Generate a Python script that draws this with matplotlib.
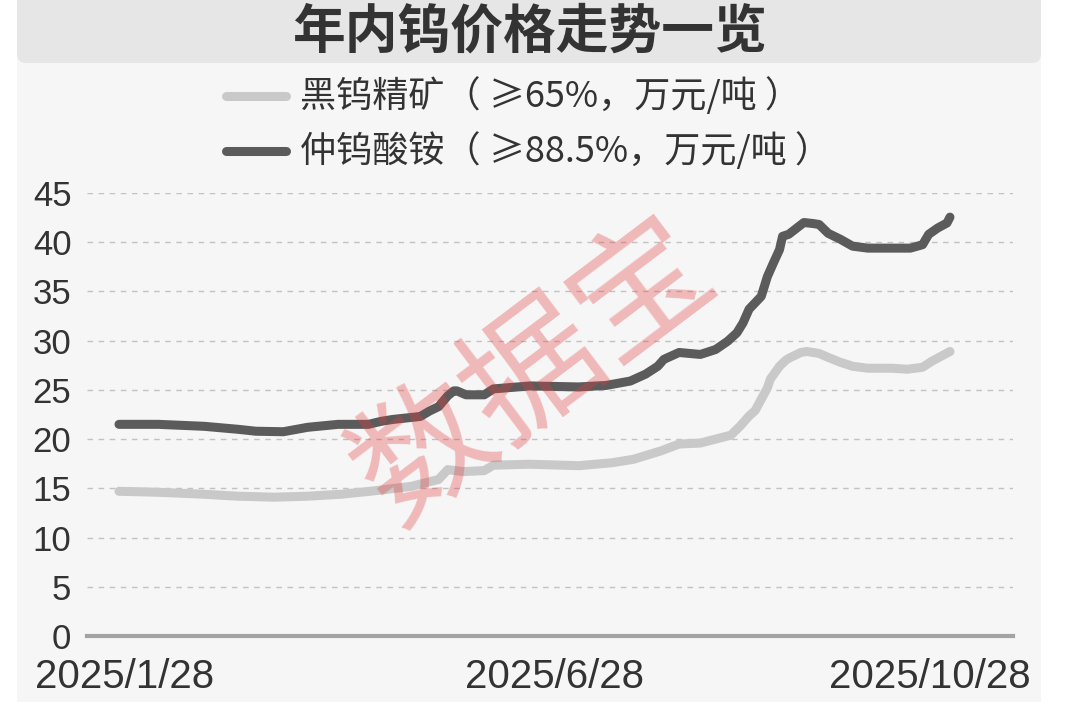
import matplotlib.pyplot as plt
import matplotlib.transforms as mtransforms
from matplotlib.patches import FancyBboxPatch, Rectangle
from matplotlib.lines import Line2D
import pandas as pd

plt.rcParams['font.family'] = ['Noto Sans CJK SC', 'DejaVu Sans']

title = '年内钨价格走势一览'
watermark = '数据宝'
series_labels = ['黑钨精矿（ ≥65%，万元/吨 ）', '仲钨酸铵（ ≥88.5%，万元/吨 ）']

# 黑钨精矿 (light line)
ore_dates = ['2025-01-28', '2025-02-10', '2025-02-25', '2025-03-08', '2025-03-20',
             '2025-03-31', '2025-04-11', '2025-04-22', '2025-05-04', '2025-05-13',
             '2025-05-16', '2025-05-21', '2025-05-28', '2025-05-31', '2025-06-12',
             '2025-06-28', '2025-07-09', '2025-07-16', '2025-07-25', '2025-07-31',
             '2025-08-07', '2025-08-17', '2025-08-20', '2025-08-23', '2025-08-25',
             '2025-08-29', '2025-08-30', '2025-09-02', '2025-09-04', '2025-09-05',
             '2025-09-09', '2025-09-11', '2025-09-15', '2025-09-18', '2025-09-22',
             '2025-09-26', '2025-10-01', '2025-10-09', '2025-10-14', '2025-10-19',
             '2025-10-22', '2025-10-28']
ore_values = [14.7, 14.6, 14.4, 14.2, 14.1,
              14.2, 14.4, 14.75, 15.2, 15.9,
              16.9, 16.7, 16.8, 17.35, 17.45,
              17.3, 17.6, 17.95, 18.8, 19.5,
              19.6, 20.4, 21.3, 22.35, 22.9,
              25.2, 26.1, 27.4, 28.0, 28.2,
              28.8, 28.9, 28.7, 28.3, 27.8,
              27.4, 27.2, 27.2, 27.1, 27.3,
              27.9, 28.9]

# 仲钨酸铵 (dark line)
apt_dates = ['2025-01-28', '2025-02-10', '2025-02-25', '2025-03-08', '2025-03-14',
             '2025-03-23', '2025-03-31', '2025-04-10', '2025-04-20', '2025-04-24',
             '2025-04-28', '2025-05-07', '2025-05-10', '2025-05-13', '2025-05-16',
             '2025-05-18', '2025-05-19', '2025-05-22', '2025-05-28', '2025-05-31',
             '2025-06-12', '2025-06-28', '2025-07-07', '2025-07-15', '2025-07-20',
             '2025-07-24', '2025-07-26', '2025-07-31', '2025-08-07', '2025-08-12',
             '2025-08-16', '2025-08-19', '2025-08-21', '2025-08-23', '2025-08-27',
             '2025-08-29', '2025-08-31', '2025-09-02', '2025-09-03', '2025-09-05',
             '2025-09-10', '2025-09-13', '2025-09-15', '2025-09-18', '2025-09-22',
             '2025-09-26', '2025-10-01', '2025-10-15', '2025-10-19', '2025-10-21',
             '2025-10-24', '2025-10-27', '2025-10-28']
apt_values = [21.5, 21.5, 21.3, 21.0, 20.8,
              20.75, 21.2, 21.5, 21.5, 21.8,
              22.0, 22.3, 22.85, 23.3, 24.4,
              24.9, 24.9, 24.5, 24.5, 25.1,
              25.4, 25.3, 25.45, 25.9, 26.6,
              27.4, 28.1, 28.8, 28.6, 29.1,
              29.95, 30.8, 31.8, 33.2, 34.5,
              36.5, 37.9, 39.25, 40.6, 40.8,
              42.0, 41.9, 41.8, 40.9, 40.3,
              39.6, 39.4, 39.4, 39.75, 40.8,
              41.45, 41.95, 42.55]

yticks = [0, 5, 10, 15, 20, 25, 30, 35, 40, 45]
xtick_dates = ['2025-01-28', '2025-06-28', '2025-10-28']
xtick_labels = ['2025/1/28', '2025/6/28', '2025/10/28']

W, H = 1078, 714
fig = plt.figure(figsize=(W / 100, H / 100), dpi=100)
fig.patch.set_facecolor('white')

# panel + title bar
fig.add_artist(Rectangle((17 / W, 1 - 702 / H), (1041 - 17) / W, 702 / H,
                         transform=fig.transFigure, facecolor='#f6f6f6',
                         edgecolor='none', zorder=0))
fig.add_artist(FancyBboxPatch((0.17, (H - 63) / 100), 10.24, 1.0,
                              boxstyle='round,pad=0,rounding_size=0.09',
                              transform=fig.dpi_scale_trans, facecolor='#e6e6e6',
                              edgecolor='none', zorder=0.5))
fig.text(529 / W, 1 - 32 / H, title, ha='center', va='center',
         fontsize=38, fontweight='bold', color='#333333')

# legend
leg_colors = ['#c9c9c9', '#5b5b5b']
for i, (lab, col) in enumerate(zip(series_labels, leg_colors)):
    yy = (H - (96 + 55 * i)) / 100
    fig.add_artist(Line2D([2.26, 2.86], [yy, yy], transform=fig.dpi_scale_trans,
                          color=col, linewidth=6.5, solid_capstyle='round'))
    fig.text(3.0, yy, lab, transform=fig.dpi_scale_trans, ha='left', va='center',
             fontsize=26, color='#333333')

ax = fig.add_axes([86.7 / W, 1 - 636 / H, (1013 - 86.7) / W, (636 - 193) / H])
ax.set_facecolor('none')

ore_x = pd.to_datetime(ore_dates)
apt_x = pd.to_datetime(apt_dates)
ax.plot(ore_x, ore_values, color='#c9c9c9', linewidth=6.5,
        solid_capstyle='round', solid_joinstyle='round', zorder=3, clip_on=False)
ax.plot(apt_x, apt_values, color='#5b5b5b', linewidth=6.5,
        solid_capstyle='round', solid_joinstyle='round', zorder=3, clip_on=False)

start = pd.Timestamp(xtick_dates[0])
end = pd.Timestamp(xtick_dates[-1])
ax.set_xlim(start - pd.Timedelta(days=10.6), end + pd.Timedelta(days=20.7))
ax.set_ylim(0, 45)

ax.set_yticks(yticks)
ax.set_yticklabels([str(v) for v in yticks], family='Liberation Sans',
                   fontsize=25, color='#333333')
ax.set_xticks(pd.to_datetime(xtick_dates))
ax.set_xticklabels(xtick_labels, family='Liberation Sans', fontsize=29,
                   color='#333333')
ax.tick_params(axis='both', length=0)
ax.tick_params(axis='y', pad=11)
ax.tick_params(axis='x', pad=16)

# shift date labels to where the reference shows them
offsets = [6, -24, -20]
for lab, dx in zip(ax.get_xticklabels(), offsets):
    lab.set_transform(lab.get_transform() +
                      mtransforms.ScaledTranslation(dx / 100, 0, fig.dpi_scale_trans))

ax.yaxis.grid(True, linestyle=(0, (4, 4)), color='#c2c2c2', linewidth=1)
ax.set_axisbelow(True)
for s in ['left', 'right', 'top']:
    ax.spines[s].set_visible(False)
ax.spines['bottom'].set_color('#a3a3a3')
ax.spines['bottom'].set_linewidth(3)
ax.spines['bottom'].set_zorder(4)

# watermark
fig.text(535 / W, 1 - 372 / H, watermark, ha='center', va='center', rotation=37,
         fontsize=98, color='#e63c3c', alpha=0.33, zorder=10)

fig.savefig('out.png', dpi=100, facecolor='white')
